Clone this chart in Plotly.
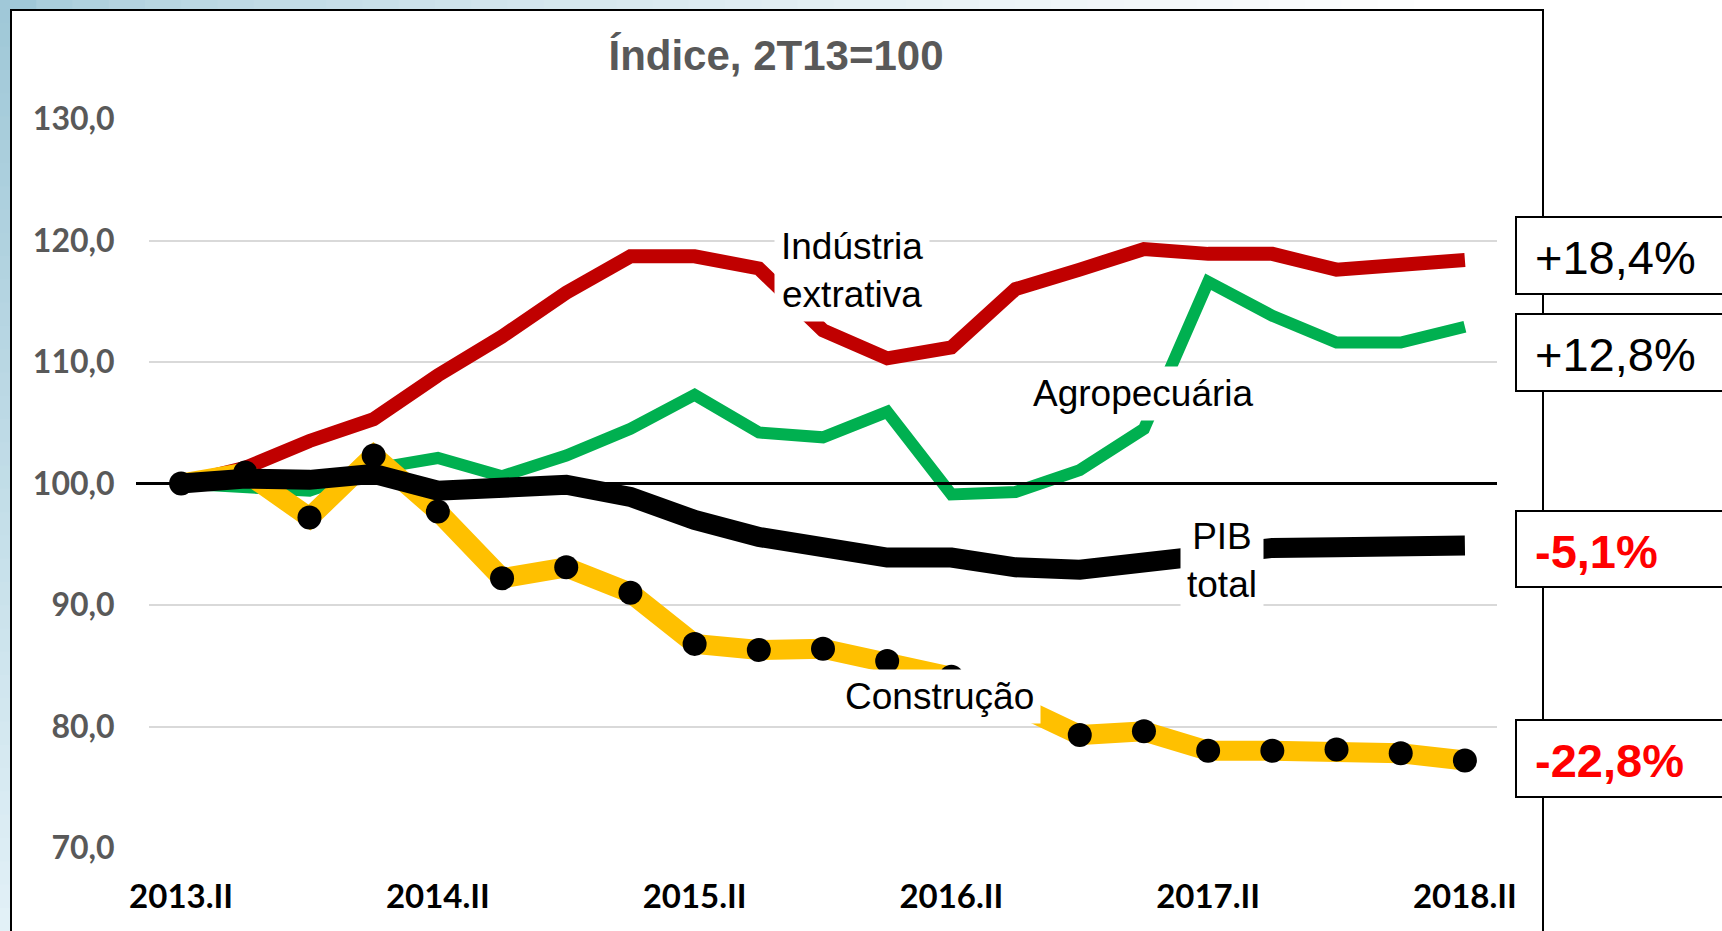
import plotly.graph_objects as go

# ---------------- data ----------------
quarters = ["2013.II", "2013.III", "2013.IV", "2014.I", "2014.II", "2014.III", "2014.IV",
            "2015.I", "2015.II", "2015.III", "2015.IV", "2016.I", "2016.II", "2016.III",
            "2016.IV", "2017.I", "2017.II", "2017.III", "2017.IV", "2018.I", "2018.II"]
tick_labels = ["2013.II", "2014.II", "2015.II", "2016.II", "2017.II", "2018.II"]

extrativa = [100.0, 101.3, 103.5, 105.3, 108.9, 112.1, 115.7, 118.7, 118.7, 117.7, 112.6,
             110.3, 111.2, 116.0, 117.6, 119.3, 118.9, 118.9, 117.6, 118.0, 118.4]
agro = [100.0, 99.8, 99.4, 101.2, 102.1, 100.6, 102.3, 104.5, 107.3, 104.2, 103.8,
        105.9, 99.1, 99.3, 101.1, 104.5, 116.6, 113.8, 111.6, 111.6, 112.9]
pib = [100.0, 100.4, 100.3, 100.8, 99.4, 99.6, 99.9, 98.9, 97.0, 95.6, 94.8,
       93.9, 93.9, 93.1, 92.9, 93.6, 94.0, 94.7, 94.75, 94.8, 94.9]
construcao = [100.0, 100.9, 97.2, 102.3, 97.7, 92.2, 93.1, 91.0, 86.8, 86.3, 86.4,
              85.4, 84.1, 81.8, 79.3, 79.6, 78.0, 78.0, 78.1, 77.8, 77.2]

y_ticks = [70, 80, 90, 100, 110, 120, 130]
y_tick_text = ["70,0", "80,0", "90,0", "100,0", "110,0", "120,0", "130,0"]

change_labels = ["+18,4%", "+12,8%", "-5,1%", "-22,8%"]
title_text = "Índice, 2T13=100"

# ---------------- layout geometry (pixels in the 1722x931 page) ----------------
W, H = 1722, 931
L, R, T, B = 149, 1497, 119, 848


def xp(px):
    return (px - L) / (R - L)


def yp(py):
    return (B - py) / (B - T)


fig = go.Figure()

fig.add_trace(go.Scatter(x=quarters, y=extrativa, mode="lines",
                         line=dict(color="#C00000", width=14), name="Indústria extrativa"))
fig.add_trace(go.Scatter(x=quarters, y=agro, mode="lines",
                         line=dict(color="#00B050", width=12), name="Agropecuária"))
fig.add_trace(go.Scatter(x=quarters, y=construcao, mode="lines+markers",
                         line=dict(color="#FFC000", width=20),
                         marker=dict(color="black", size=24), name="Construção"))
fig.add_trace(go.Scatter(x=quarters, y=pib, mode="lines",
                         line=dict(color="black", width=20), name="PIB total"))

shapes = []

# background gradient strips (outside the chart frame)
c0 = (160, 200, 216)
c_left_end = (226, 241, 247)
n = 40
for k in range(n):
    t = k / (n - 1)
    col = tuple(int(c0[j] + (c_left_end[j] - c0[j]) * t) for j in range(3))
    shapes.append(dict(type="rect", xref="paper", yref="paper", layer="below",
                       x0=xp(0), x1=xp(11), y0=yp(k * H / n), y1=yp((k + 1) * H / n + 1),
                       line=dict(width=0), fillcolor="rgb(%d,%d,%d)" % col))
for k in range(n):
    t = k / (n - 1)
    col = tuple(int(c0[j] + (255 - c0[j]) * (t ** 0.6)) for j in range(3))
    shapes.append(dict(type="rect", xref="paper", yref="paper", layer="below",
                       x0=xp(k * 1450 / n), x1=xp((k + 1) * 1450 / n + 1), y0=yp(0), y1=yp(10),
                       line=dict(width=0), fillcolor="rgb(%d,%d,%d)" % col))

# chart frame
shapes.append(dict(type="rect", xref="paper", yref="paper", layer="above",
                   x0=xp(11), x1=xp(1543), y0=yp(10), y1=yp(960),
                   line=dict(color="black", width=2), fillcolor="rgba(0,0,0,0)"))

# reference line at 100
shapes.append(dict(type="line", xref="paper", yref="y", layer="above",
                   x0=xp(136), x1=1, y0=100, y1=100,
                   line=dict(color="black", width=3)))

# boxes on the right
box_px = [(217, 294), (314, 391), (511, 587), (720, 797)]
for (top, bot) in box_px:
    shapes.append(dict(type="rect", xref="paper", yref="paper", layer="above",
                       x0=xp(1516), x1=xp(1760), y0=yp(bot), y1=yp(top),
                       line=dict(color="black", width=2), fillcolor="white"))

annotations = []
label_colors = ["black", "black", "#FF0000", "#FF0000"]
label_weights = ["normal", "normal", "bold", "bold"]
for (top, bot), txt, col, wt in zip(box_px, change_labels, label_colors, label_weights):
    annotations.append(dict(text=txt, xref="paper", yref="paper", x=xp(1533),
                            y=yp((top + bot) / 2 + 2), xanchor="left", yanchor="middle",
                            showarrow=False,
                            font=dict(family="Liberation Sans, Arial", size=47, color=col, weight=wt)))

# series labels with white background
series_labels = [
    ("Indústria<br>extrativa", 852, 270),
    ("Agropecuária", 1143, 393),
    ("PIB<br>total", 1222, 560),
    ("Construção", 939, 696),
]
for txt, px_, py_ in series_labels:
    annotations.append(dict(text=txt, xref="paper", yref="paper", x=xp(px_), y=yp(py_),
                            xanchor="center", yanchor="middle", showarrow=False,
                            bgcolor="white", borderpad=6,
                            font=dict(family="Liberation Sans, Arial", size=37, color="black")))

fig.update_layout(
    width=W, height=H,
    margin=dict(l=L, r=W - R, t=T, b=H - B, pad=0),
    paper_bgcolor="white", plot_bgcolor="white",
    showlegend=False,
    title=dict(text=title_text, x=776 / W, xanchor="center", y=1 - 55 / H,
               yanchor="middle", xref="container", yref="container",
               font=dict(family="Liberation Sans, Arial", size=42, color="#595959", weight="bold")),
    xaxis=dict(type="category", range=[-0.5, 20.5], tickmode="array",
               tickvals=tick_labels, ticktext=tick_labels,
               showgrid=False, zeroline=False, showline=False,
               ticks="outside", ticklen=19, tickcolor="rgba(0,0,0,0)",
               tickfont=dict(family="Lato", size=33, color="black", weight="bold")),
    yaxis=dict(range=[70, 130], tickmode="array", tickvals=y_ticks, ticktext=y_tick_text,
               showgrid=True, gridcolor="#D9D9D9", gridwidth=2, zeroline=False, showline=False,
               ticks="outside", ticklen=27, tickcolor="rgba(0,0,0,0)",
               tickfont=dict(family="Lato", size=32, color="#595959", weight="bold")),
    shapes=shapes,
    annotations=annotations,
)

fig.write_html("out.html", config={"displayModeBar": False},
               post_script="document.body.style.margin='0';document.body.style.overflow='hidden';")
